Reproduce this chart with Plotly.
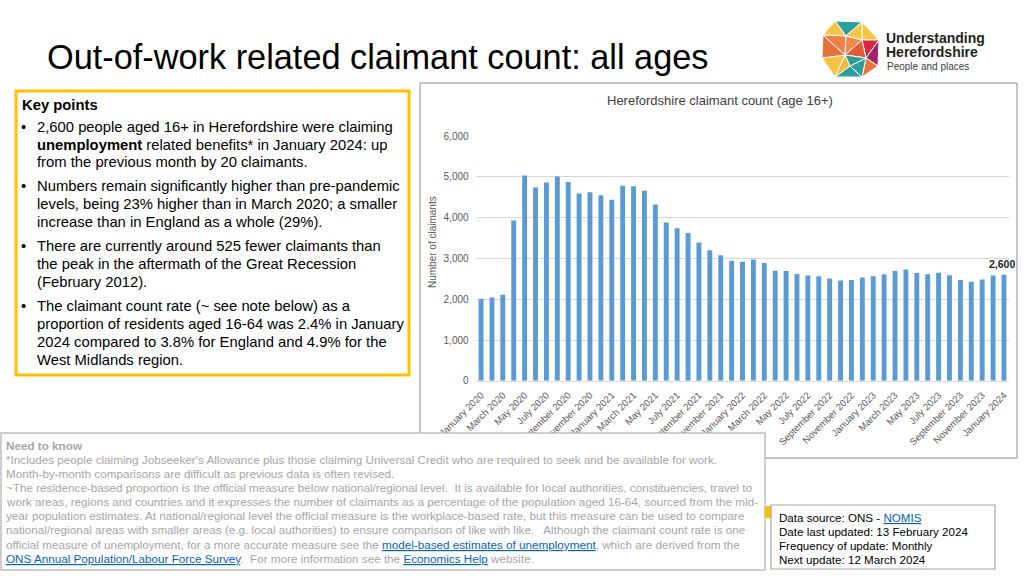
import plotly.graph_objects as go

W, H = 1024, 576
FONT = "Liberation Sans, Arial, sans-serif"

MONTHS = ["January", "February", "March", "April", "May", "June", "July",
          "August", "September", "October", "November", "December"]
YEARS = [2020, 2021, 2022, 2023, 2024]
categories = [f"{m} {y}" for y in YEARS for m in MONTHS][:49]

claimants = [2010, 2040, 2110, 3930, 5030, 4740, 4860, 5010, 4870, 4590, 4620, 4550,
             4440, 4780, 4770, 4660, 4320, 3880, 3740, 3620, 3390, 3200, 3080, 2940,
             2920, 2970, 2890, 2700, 2690, 2620, 2580, 2560, 2510, 2460, 2470, 2530,
             2560, 2610, 2690, 2730, 2640, 2610, 2650, 2590, 2470, 2430, 2480, 2580,
             2600]
tick_labels = categories[::2]
y_ticks = [0, 1000, 2000, 3000, 4000, 5000, 6000]
last_label = "2,600"

title_text = "Out-of-work related claimant count: all ages"
chart_title = "Herefordshire claimant count (age 16+)"
y_title = "Number of claimants"

key_points = [
    ("<b>Key points</b>", False),
    ("2,600 people aged 16+ in Herefordshire were claiming", True),
    ("<b>unemployment</b> related benefits* in January 2024: up", False),
    ("from the previous month by 20 claimants.", False),
    ("Numbers remain significantly higher than pre-pandemic", True),
    ("levels, being 23% higher than in March 2020; a smaller", False),
    ("increase than in England as a whole (29%).", False),
    ("There are currently around 525 fewer claimants than", True),
    ("the peak in the aftermath of the Great Recession", False),
    ("(February 2012).", False),
    ("The claimant count rate (~ see note below) as a", True),
    ("proportion of residents aged 16-64 was 2.4% in January", False),
    ("2024 compared to 3.8% for England and 4.9% for the", False),
    ("West Midlands region.", False),
]
key_y = [105, 127, 145, 162, 186, 204, 222, 246, 264, 282, 306, 324, 342, 360]

LINK = "color:#0563C1"
need_lines = [
    "<b>Need to know</b>",
    "*Includes people claiming Jobseeker's Allowance plus those claiming Universal Credit who are required to seek and be available for work.",
    "Month-by-month comparisons are difficult as previous data is often revised.",
    "~The residence-based proportion is the official measure below national/regional level.  It is available for local authorities, constituencies, travel to",
    "work areas, regions and countries and it expresses the number of claimants as a percentage of the population aged 16-64, sourced from the mid-",
    "year population estimates. At national/regional level the official measure is the workplace-based rate, but this measure can be used to compare",
    "national/regional areas with smaller areas (e.g. local authorities) to ensure comparison of like with like.   Although the claimant count rate is one",
    f"official measure of unemployment, for a more accurate measure see the <span style='{LINK}'><u>model-based estimates of unemployment</u></span>, which are derived from the",
    f"<span style='{LINK}'><u>ONS Annual Population/Labour Force Survey</u></span>.  For more information see the <span style='{LINK}'><u>Economics Help</u></span> website.",
]
need_y0, need_dy = 445, 14.15

source_lines = [
    f"Data source: ONS - <span style='{LINK}'><u>NOMIS</u></span>",
    "Date last updated: 13 February 2024",
    "Frequency of update: Monthly",
    "Next update: 12 March 2024",
]
source_y0, source_dy = 517, 14.1


def X(x):
    return x / W


def Y(y):
    return 1 - y / H


fig = go.Figure()
fig.add_trace(go.Bar(x=categories, y=claimants, marker_color="#5B9BD5",
                     marker_line_width=0, hoverinfo="x+y"))

annotations = []
shapes = []

# Page title
annotations.append(dict(text=title_text, x=X(45), y=Y(57), xref="paper", yref="paper",
                        xanchor="left", yanchor="middle", showarrow=False,
                        font=dict(family=FONT, size=34.3, color="#000000")))

# Chart frame
shapes.append(dict(type="rect", xref="paper", yref="paper", x0=X(420), x1=X(1017),
                   y0=Y(458), y1=Y(83), line=dict(color="#8C8C8C", width=1),
                   fillcolor="rgba(0,0,0,0)", layer="below"))
annotations.append(dict(text=chart_title, x=X(720), y=Y(100), xref="paper", yref="paper",
                        xanchor="center", yanchor="middle", showarrow=False,
                        font=dict(family=FONT, size=13, color="#404040")))
annotations.append(dict(text=y_title, x=X(433), y=Y(242), xref="paper", yref="paper",
                        xanchor="center", yanchor="middle", showarrow=False, textangle=-90,
                        font=dict(family=FONT, size=10, color="#595959")))
annotations.append(dict(text=f"<b>{last_label}</b>", x=categories[-1], y=claimants[-1],
                        xref="x", yref="y", xanchor="center", yanchor="bottom", yshift=3,
                        xshift=-2, showarrow=False,
                        font=dict(family=FONT, size=10.5, color="#262626")))

# Key points box
shapes.append(dict(type="rect", xref="paper", yref="paper", x0=X(16), x1=X(409),
                   y0=Y(375), y1=Y(91), line=dict(color="#FFC000", width=3),
                   fillcolor="rgba(0,0,0,0)"))
for (txt, bullet), yy in zip(key_points, key_y):
    xx = 20 if txt.startswith("<b>Key") else 35
    annotations.append(dict(text=txt, x=X(xx), y=Y(yy), xref="paper", yref="paper",
                            xanchor="left", yanchor="middle", showarrow=False,
                            font=dict(family=FONT, size=14.8, color="#000000")))
    if bullet:
        annotations.append(dict(text="•", x=X(19), y=Y(yy), xref="paper", yref="paper",
                                xanchor="left", yanchor="middle", showarrow=False,
                                font=dict(family=FONT, size=14.8, color="#000000")))

# Need to know box
shapes.append(dict(type="rect", xref="paper", yref="paper", x0=X(1), x1=X(765),
                   y0=Y(570), y1=Y(433), line=dict(color="#BFBFBF", width=1.5),
                   fillcolor="white"))
for i, txt in enumerate(need_lines):
    annotations.append(dict(text=txt, x=X(4), y=Y(need_y0 + i * need_dy), xref="paper",
                            yref="paper", xanchor="left", yanchor="middle", showarrow=False,
                            font=dict(family=FONT, size=11.7, color="#A6A6A6")))

# Data source box
shapes.append(dict(type="rect", xref="paper", yref="paper", x0=X(765), x1=X(771),
                   y0=Y(518), y1=Y(506), line=dict(width=0), fillcolor="#FFC000"))
shapes.append(dict(type="rect", xref="paper", yref="paper", x0=X(771), x1=X(995),
                   y0=Y(569), y1=Y(505), line=dict(color="#A6A6A6", width=1.2),
                   fillcolor="white"))
for i, txt in enumerate(source_lines):
    annotations.append(dict(text=txt, x=X(777), y=Y(source_y0 + i * source_dy), xref="paper",
                            yref="paper", xanchor="left", yanchor="middle", showarrow=False,
                            font=dict(family=FONT, size=11.6, color="#000000")))

# Logo (decorative)
V = {"V1": (835, 21), "V2": (862, 22), "V3": (879, 40), "V4": (878, 66),
     "V5": (862, 77), "V6": (835, 77), "V7": (822, 58), "V8": (823, 35),
     "C1": (846, 36), "C2": (862, 40), "C3": (845, 55), "C4": (866, 58), "C5": (850, 66)}
tris = [("V1", "V2", "C1", "#2B9E9E"), ("V2", "V3", "C2", "#F6C343"),
        ("V2", "C1", "C2", "#F7C548"), ("V3", "C2", "C4", "#D8283E"),
        ("V3", "V4", "C4", "#A0226E"), ("V4", "V5", "C4", "#E9733A"),
        ("V5", "V6", "C5", "#2B9E9E"), ("C4", "C5", "V5", "#2E9C9A"),
        ("V6", "V7", "C3", "#F6C343"), ("C3", "C5", "V6", "#F5B942"),
        ("V7", "V8", "C3", "#E8703A"), ("V8", "V1", "C1", "#F6C343"),
        ("V8", "C1", "C3", "#EE7F45"), ("C1", "C2", "C3", "#F08A4B"),
        ("C2", "C3", "C4", "#E65B3A"), ("C3", "C4", "C5", "#2E9C9A")]
for a, b, c, col in tris:
    pts = [V[a], V[b], V[c]]
    path = "M " + " L ".join(f"{X(p[0]):.5f},{Y(p[1]):.5f}" for p in pts) + " Z"
    shapes.append(dict(type="path", xref="paper", yref="paper", path=path,
                       fillcolor=col, line=dict(color="white", width=1)))
annotations.append(dict(text="<b>Understanding</b>", x=X(884), y=Y(38), xref="paper",
                        yref="paper", xanchor="left", yanchor="middle", showarrow=False,
                        font=dict(family=FONT, size=14, color="#231F20")))
annotations.append(dict(text="<b>Herefordshire</b>", x=X(884), y=Y(52), xref="paper",
                        yref="paper", xanchor="left", yanchor="middle", showarrow=False,
                        font=dict(family=FONT, size=14, color="#231F20")))
annotations.append(dict(text="People and places", x=X(885), y=Y(66), xref="paper",
                        yref="paper", xanchor="left", yanchor="middle", showarrow=False,
                        font=dict(family=FONT, size=10, color="#404040")))

fig.update_layout(
    width=W, height=H, margin=dict(l=0, r=0, t=0, b=0, autoexpand=False),
    paper_bgcolor="white", plot_bgcolor="white", showlegend=False,
    bargap=0.55, font=dict(family=FONT),
    xaxis=dict(domain=[X(475.6), X(1009.4)], type="category", tickmode="array",
               tickvals=tick_labels, ticktext=tick_labels, tickangle=-45,
               tickfont=dict(family=FONT, size=9.6, color="#595959"), automargin=False,
               showgrid=False, showline=True, linecolor="#D9D9D9", linewidth=1,
               ticks="", ticklabelstandoff=4, range=[-0.5, 48.5]),
    yaxis=dict(domain=[Y(380.8), Y(136)], range=[0, 6000], tickvals=y_ticks,
               tickformat=",", showgrid=True, gridcolor="#D9D9D9", gridwidth=1,
               zeroline=False, showline=False, ticks="", automargin=False,
               ticklabelstandoff=6,
               tickfont=dict(family=FONT, size=10, color="#595959")),
    shapes=shapes, annotations=annotations,
)

fig.write_html("out.html", config={"displayModeBar": False},
               post_script="document.body.style.margin='0px';document.body.style.padding='0px';")
